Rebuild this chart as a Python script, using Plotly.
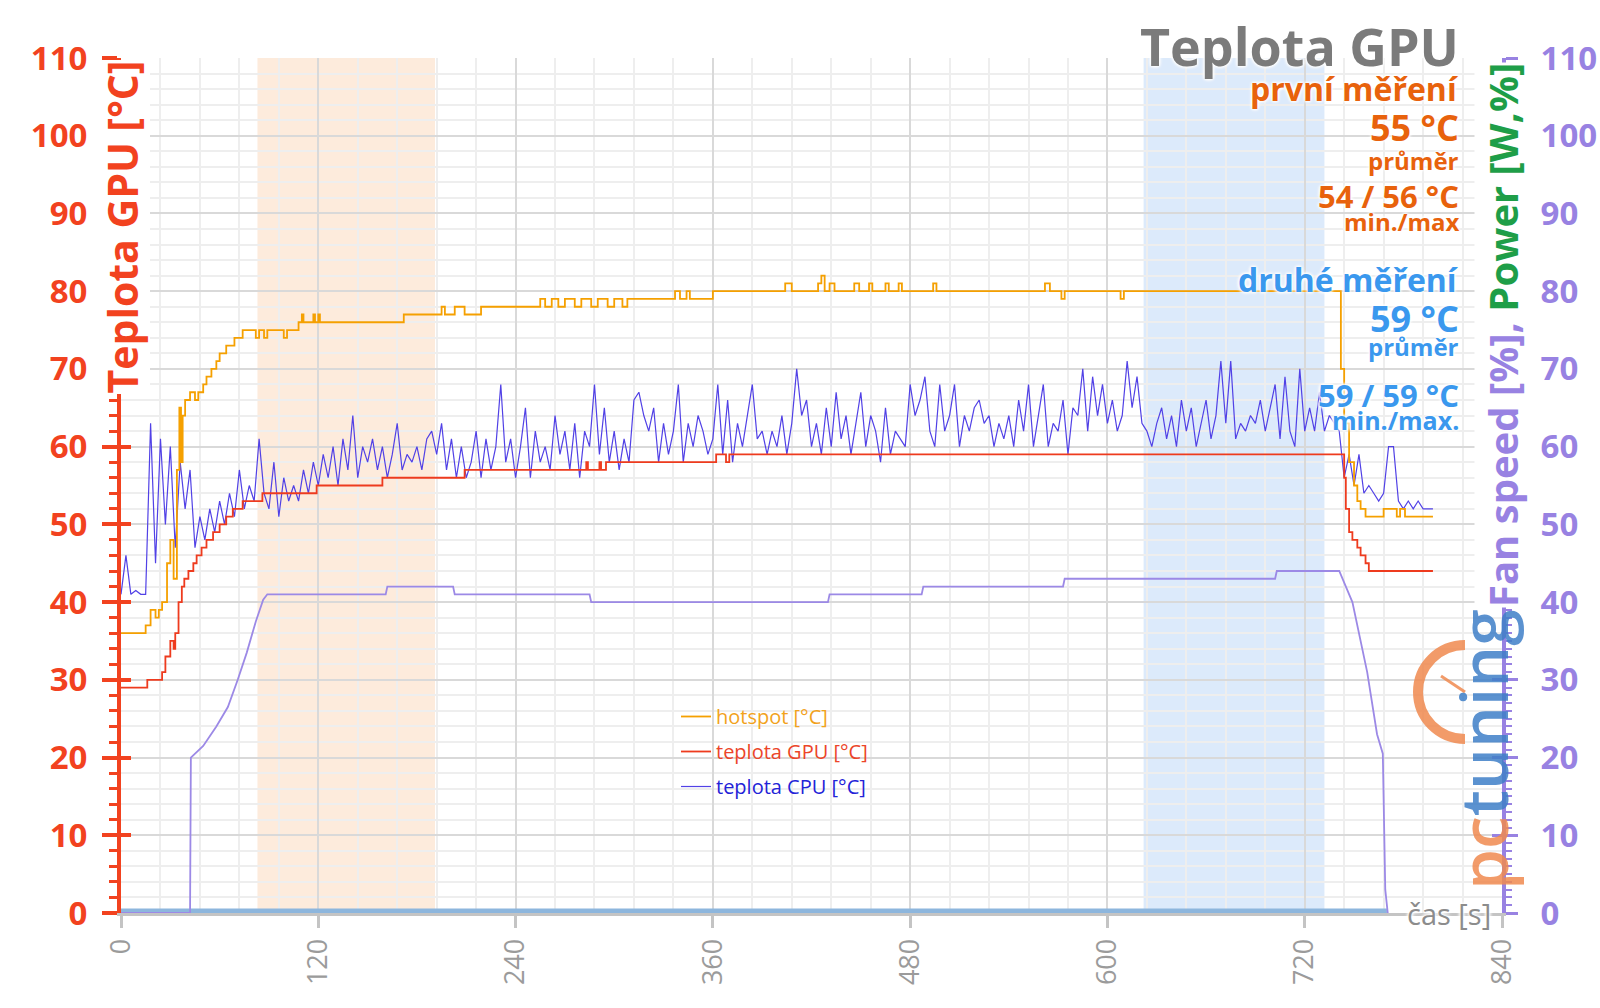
import plotly.graph_objects as go

# ---------------- data ----------------
CPU_STEP_S = 3  # sampling step of the CPU series [s]
cpu_temp = [
    41, 46, 41, 41.5, 41, 41, 63, 45, 61, 50,
    60, 47, 58, 52, 57, 47, 51, 48, 52, 49,
    53, 50, 54, 51, 57, 52, 55, 53, 61, 54,
    52, 58, 51, 56, 53, 55, 53, 57, 54, 58,
    55, 59, 56, 60, 55, 61, 57, 64, 56, 60,
    58, 61, 57, 60, 56, 59, 63, 57, 59, 58,
    60, 57, 61, 62, 59, 63, 57, 61, 56, 60,
    56, 58, 62, 56, 61, 57, 60, 68, 58, 61,
    56, 60, 65, 56, 62, 58, 60, 57, 64, 59,
    62, 57, 63, 56, 62, 60, 68, 59, 65, 58,
    62, 57, 61, 58, 66, 67, 64, 62, 65, 58,
    63, 59, 62, 68, 58, 63, 60, 64, 62, 59,
    61, 68, 59, 66, 58, 63, 60, 64, 68, 61,
    62, 59, 62, 60, 64, 59, 63, 70, 64, 66,
    60, 63, 59, 65, 60, 67, 61, 64, 59, 63,
    67, 60, 64, 62, 58, 65, 59, 62, 61, 60,
    68, 64, 66, 69, 62, 60, 68, 62, 64, 68,
    60, 64, 62, 65, 66, 63, 64, 60, 63, 61,
    64, 60, 66, 62, 68, 60, 64, 68, 60, 63,
    62, 66, 59, 65, 64, 70, 62, 69, 64, 68,
    63, 66, 62, 64, 71, 65, 69, 63, 62, 60,
    63, 65, 61, 64, 60, 66, 62, 65, 60, 63,
    66, 61, 64, 71, 63, 71, 61, 63, 62, 64,
    63, 66, 62, 65, 68, 61, 69, 62, 60, 70,
    62, 65, 62, 67, 62, 64, 63, 62, 56, 59,
    55, 59, 54, 55, 54, 53, 54, 60, 60, 53,
    52, 53, 52, 53, 52, 52, 52,
]
cpu_time = [i * CPU_STEP_S for i in range(len(cpu_temp))]

hot_time = [0, 15, 18, 21, 23, 25, 28, 30, 32, 34, 35.5, 36.5, 37.5, 39, 42, 45, 47, 50, 52, 55,
            58, 60, 64, 69, 74, 82, 84, 87, 89, 99, 101, 108, 110, 111, 117, 118, 120, 121, 172, 195,
            197, 203, 209, 219, 225, 255, 258, 262, 266, 270, 276, 280, 286, 290, 296, 300, 305, 308, 337, 340,
            344, 346, 360, 404, 408, 424, 426, 428, 431, 434, 446, 449, 455, 457, 465, 467, 473, 475, 494, 496,
            562, 565, 572, 574, 608, 610, 741, 742, 744, 747, 750, 752, 754, 757, 768, 776, 778, 781, 798]
hot_temp = [36, 37, 39, 38, 39, 40, 45, 48, 43, 57, 65, 58, 64, 66, 67, 66, 67, 68, 69, 70,
            71, 72, 73, 74, 75, 74, 75, 74, 75, 74, 75, 76, 77, 76, 77, 76, 77, 76, 77, 78,
            77, 78, 77, 78, 78, 79, 78, 79, 78, 79, 78, 79, 78, 79, 78, 79, 78, 79, 80, 79,
            80, 79, 80, 81, 80, 81, 82, 80, 81, 80, 81, 80, 81, 80, 81, 80, 81, 80, 81, 80,
            81, 80, 79, 80, 79, 80, 80, 70, 63, 58, 55, 53, 52, 51, 52, 51, 52, 51, 51]

gpu_time = [0, 16, 25, 27, 30, 32, 33, 35, 37, 38.5, 41, 44, 46, 49, 52, 56, 60, 64, 68, 74,
            86, 119, 159, 209, 283, 284, 291, 292, 295, 362, 368, 370, 743, 744, 745, 747, 749, 752, 754, 757,
            759, 798]
gpu_temp = [29, 30, 31, 33, 35, 34, 36, 40, 42, 43, 44, 45, 46, 47, 48, 49, 50, 51, 52, 53,
            54, 55, 56, 57, 58, 57, 58, 57, 58, 59, 58, 59, 59, 56, 52, 49, 48, 47, 46, 45,
            44, 44]

fan_time = [0, 42, 42.5, 50, 58, 65, 71, 76.5, 82, 86.5, 89, 161, 162, 202, 203, 285, 286, 430, 431, 487,
            488, 573, 574, 702, 703, 741, 749, 758, 764, 767.5, 769, 770.5]
fan_speed = [0, 0, 20, 21.5, 24, 26.5, 30, 33.5, 37.5, 40.3, 41, 41, 42, 42, 41, 41, 40, 40, 41, 41,
             42, 42, 43, 43, 44, 44, 40, 31, 23, 20.5, 3, 0]

power_time = [0, 770]
power_value = [0, 0]

x_ticks = [0, 120, 240, 360, 480, 600, 720, 840]
y_ticks = [0, 10, 20, 30, 40, 50, 60, 70, 80, 90, 100, 110]

band_first = [83, 191]
band_second = [622, 732]

first_label = "první měření"
first_avg = "55 °C"
first_minmax = "54 / 56 °C"
second_label = "druhé měření"
second_avg = "59 °C"
second_minmax = "59 / 59 °C"

# ---------------- styling ----------------
FONT = "Open Sans"
RED = "#F2421F"
PURPLE = "#9882E2"
GREEN = "#1E9E48"
ORANGE_TXT = "#E8620C"
BLUE_TXT = "#3A98EE"
GRAY = "#7B7B7B"

L, R, T, B = 121, 98, 58, 95
W, H = 1600, 1008
PW, PH = W - L - R, H - T - B


def px_x(p):
    return (p - L) / PW


def px_y(p):
    return (H - B - p) / PH


HALO = "0 0 3px #fff, 0 0 3px #fff, 0 0 4px #fff, 0 0 4px #fff"

fig = go.Figure()

# shaded test bands
for (x0, x1), col in [(band_first, "#FDEBDC"), (band_second, "#DCEAFB")]:
    fig.add_shape(type="rect", xref="x", yref="paper", x0=x0, x1=x1, y0=0, y1=1,
                  fillcolor=col, line_width=0, layer="below")

fig.add_trace(go.Scatter(x=cpu_time, y=cpu_temp, mode="lines",
                         name="<span style='color:#2323D8'>teplota CPU [°C]</span>",
                         line=dict(color="#5141E6", width=1.2), legendrank=3,
                         legendgroup="c", hoverinfo="skip"))
fig.add_trace(go.Scatter(x=hot_time, y=hot_temp, mode="lines",
                         name="<span style='color:#F2A21C'>hotspot [°C]</span>",
                         line=dict(color="#F5A000", width=1.8, shape="hv"), legendrank=1,
                         legendgroup="a", hoverinfo="skip"))
fig.add_trace(go.Scatter(x=gpu_time, y=gpu_temp, mode="lines",
                         name="<span style='color:#EC4529'>teplota GPU [°C]</span>",
                         line=dict(color="#EE3B1E", width=1.8, shape="hv"), legendrank=2,
                         legendgroup="b", hoverinfo="skip"))
fig.add_trace(go.Scatter(x=power_time, y=power_value, mode="lines", yaxis="y2",
                         line=dict(color="#8DB6DD", width=9), showlegend=False, hoverinfo="skip"))
fig.add_trace(go.Scatter(x=fan_time, y=fan_speed, mode="lines", yaxis="y2",
                         line=dict(color="#9C89E6", width=1.8), showlegend=False, hoverinfo="skip"))

tick_font_l = dict(family=FONT, size=33, color=RED, weight="bold")
tick_font_r = dict(family=FONT, size=33, color=PURPLE, weight="bold")

fig.update_layout(
    width=W, height=H,
    margin=dict(l=L, r=R, t=T, b=B, autoexpand=False),
    paper_bgcolor="white", plot_bgcolor="white",
    showlegend=True,
    legend=dict(x=px_x(676), y=px_y(697), xanchor="left", yanchor="top",
                bgcolor="rgba(0,0,0,0)", font=dict(family=FONT, size=20),
                tracegroupgap=6, itemwidth=30),
    xaxis=dict(range=[0, 840], tickmode="array", tickvals=x_ticks,
               ticktext=[str(v) for v in x_ticks], tickangle=-90,
               tickfont=dict(family=FONT, size=27, color="#9B9B9B"),
               showgrid=True, gridcolor="#D9D9D9", gridwidth=2,
               minor=dict(dtick=24, tick0=0, showgrid=True, gridcolor="#EEEEEE", gridwidth=1.5),
               showline=True, linecolor="#C4C4C4", linewidth=3,
               ticks="outside", ticklen=12, tickwidth=3, tickcolor="#C4C4C4",
               zeroline=False),
    yaxis=dict(range=[0, 110], tickmode="array", tickvals=y_ticks,
               tickfont=tick_font_l, ticklabelstandoff=8,
               showgrid=True, gridcolor="#D9D9D9", gridwidth=2,
               minor=dict(dtick=2, tick0=0, ticks="outside", ticklen=8, tickwidth=3,
                          tickcolor=RED, showgrid=True, gridcolor="#EEEEEE", gridwidth=1.5),
               showline=True, linecolor=RED, linewidth=4,
               ticks="outside", ticklen=15, tickwidth=4, tickcolor=RED, zeroline=False),
    yaxis2=dict(overlaying="y", side="right", range=[0, 110], tickmode="array", tickvals=y_ticks,
                tickfont=tick_font_r, ticklabelstandoff=16,
                showgrid=False, showline=True, linecolor=PURPLE, linewidth=4,
                ticks="outside", ticklen=12, tickwidth=3, tickcolor=PURPLE,
                minor=dict(dtick=1, tick0=0, ticks="outside", ticklen=6, tickwidth=2, tickcolor=PURPLE),
                zeroline=False),
    yaxis3=dict(overlaying="y", side="left", range=[0, 110], tickmode="array", tickvals=y_ticks,
                ticks="inside", ticklen=10, tickwidth=4, tickcolor=RED, showticklabels=False,
                showgrid=False, showline=False, zeroline=False),
    yaxis4=dict(overlaying="y", side="right", range=[0, 110], tickmode="array", tickvals=y_ticks,
                ticks="inside", ticklen=10, tickwidth=3, tickcolor=PURPLE, showticklabels=False,
                showgrid=False, showline=False, zeroline=False),
    hovermode=False,
)

# invisible anchors so the cross-tick axes are drawn
fig.add_trace(go.Scatter(x=[0], y=[0], yaxis="y3", mode="markers", marker=dict(opacity=0),
                         showlegend=False, hoverinfo="skip"))
fig.add_trace(go.Scatter(x=[0], y=[0], yaxis="y4", mode="markers", marker=dict(opacity=0),
                         showlegend=False, hoverinfo="skip"))

ann = []
# axis titles
ann.append(dict(text="Teplota GPU [°C]", textangle=-90, xref="paper", yref="paper",
                x=0, y=px_y(60), xanchor="center", yanchor="top", showarrow=False,
                bgcolor="white", borderpad=0,
                font=dict(family=FONT, size=41, color=RED, weight="bold")))
ann.append(dict(text=f"<span style='color:{PURPLE}'>Fan speed [%], </span>"
                     f"<span style='color:{GREEN}'>Power [W,%]</span>",
                textangle=-90, xref="paper", yref="paper",
                x=1, y=px_y(62), xanchor="center", yanchor="top", showarrow=False,
                bgcolor="white", borderpad=0,
                font=dict(family=FONT, size=40, color=PURPLE, weight="bold")))
ann.append(dict(text="čas [s]", xref="paper", yref="paper", x=px_x(1493), y=px_y(913),
                xanchor="right", yanchor="middle", showarrow=False,
                font=dict(family=FONT, size=29, color="#8C8C8C", shadow=HALO)))

# title and stats (right-aligned)
RX = px_x(1461)
stats = [
    ("Teplota GPU", 52, GRAY, 45),
    (first_label, 32, ORANGE_TXT, 89),
    (first_avg, 36, ORANGE_TXT, 127),
    ("průměr", 24, ORANGE_TXT, 160),
    (first_minmax, 31, ORANGE_TXT, 196),
    ("min./max", 24, ORANGE_TXT, 222),
    (second_label, 32, BLUE_TXT, 279),
    (second_avg, 36, BLUE_TXT, 319),
    ("průměr", 24, BLUE_TXT, 346),
    (second_minmax, 31, BLUE_TXT, 395),
    ("min./max.", 25, BLUE_TXT, 420),
]
for txt, size, col, py in stats:
    ann.append(dict(text=txt, xref="paper", yref="paper", x=RX, y=px_y(py),
                    xanchor="right", yanchor="middle", showarrow=False,
                    font=dict(family=FONT, size=size, color=col, weight="bold", shadow=HALO)))

# watermark logo text
ann.append(dict(text="<span style='color:#F08A50'>pc</span><span style='color:#3F7FC8'>tuning</span>",
                textangle=-90, xref="paper", yref="paper", x=px_x(1482), y=px_y(750),
                xanchor="center", yanchor="middle", showarrow=False, opacity=0.85,
                font=dict(family=FONT, size=66, weight=600)))
fig.update_layout(annotations=ann)

# logo gauge arc
cx, cy, r = 1465, 692, 47
k = 0.5523 * r
pts = [(cx, cy - r), (cx - k, cy - r), (cx - r, cy - k), (cx - r, cy),
       (cx - r, cy + k), (cx - k, cy + r), (cx, cy + r)]
pp = [(px_x(a), px_y(b)) for a, b in pts]
path = (f"M {pp[0][0]},{pp[0][1]} C {pp[1][0]},{pp[1][1]} {pp[2][0]},{pp[2][1]} {pp[3][0]},{pp[3][1]} "
        f"C {pp[4][0]},{pp[4][1]} {pp[5][0]},{pp[5][1]} {pp[6][0]},{pp[6][1]}")
fig.add_shape(type="path", xref="paper", yref="paper", path=path,
              line=dict(color="#F08A50", width=10), layer="above", opacity=0.85)
fig.add_shape(type="line", xref="paper", yref="paper", x0=px_x(cx), y0=px_y(cy),
              x1=px_x(cx - 24), y1=px_y(cy - 16), line=dict(color="#F08A50", width=3),
              layer="above", opacity=0.85)

fig.write_html("out.html")
